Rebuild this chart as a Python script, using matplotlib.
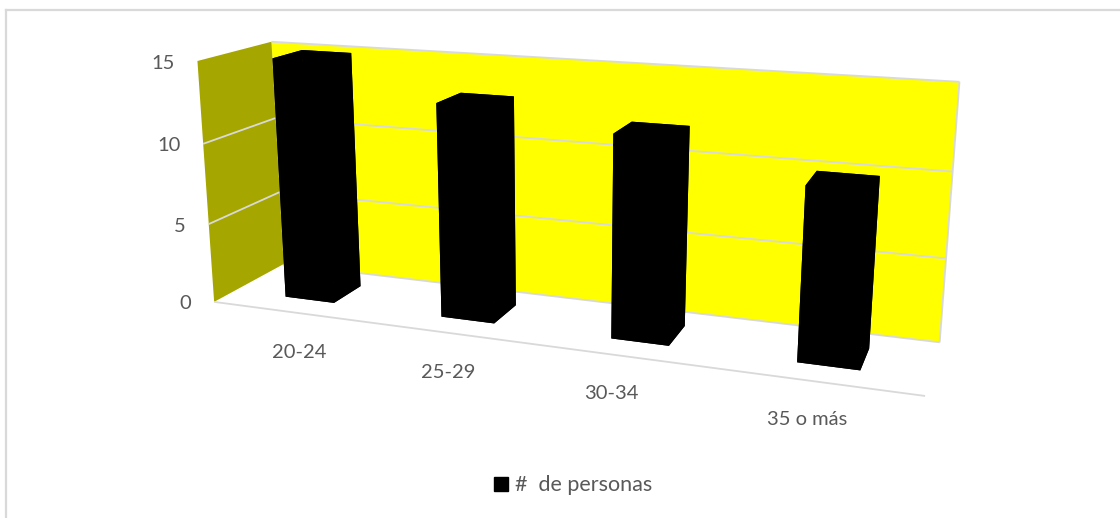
import numpy as np
import matplotlib
matplotlib.use("Agg")
import matplotlib.pyplot as plt
from mpl_toolkits.mplot3d import proj3d
from mpl_toolkits.mplot3d.art3d import Poly3DCollection, Line3DCollection
from matplotlib.lines import Line2D

categories = ["20-24", "25-29", "30-34", "35 o más"]
personas = [15, 13, 12, 10]
value_ticks = [0, 5, 10, 15]
series_name = "#  de personas"

plt.rcParams["font.family"] = ["Lato", "DejaVu Sans"]
TEXT = "#595959"
GRID = "#D9D9D9"

fig = plt.figure(figsize=(11.2, 5.18), dpi=100)
ax = fig.add_axes([-0.0045, 0.102, 1.0, 1.0], projection="3d", computed_zorder=False)
ax.set_proj_type("persp", focal_length=0.49)
ax.view_init(elev=15, azim=-70)

n = len(categories)
depth = 1.0
zmax = max(value_ticks)
ax.set_xlim(0, n)
ax.set_ylim(0, depth)
ax.set_zlim(0, zmax)
ax.set_box_aspect((2.665, 0.509, 0.935), zoom=1.49)
ax.set_axis_off()
ax.patch.set_visible(False)
for axis in (ax.xaxis, ax.yaxis, ax.zaxis):
    axis.label.set_visible(False)
    axis.offsetText.set_visible(False)


def add_poly(verts, color, z):
    pc = Poly3DCollection([verts], facecolors=color, edgecolors="none", zorder=z)
    pc.set_clip_on(False)
    ax.add_collection3d(pc)


# walls
add_poly([(0, depth, 0), (n, depth, 0), (n, depth, zmax), (0, depth, zmax)], "#FFFF00", 1)
add_poly([(0, 0, 0), (0, depth, 0), (0, depth, zmax), (0, 0, zmax)], "#A6A600", 1)

# gridlines and wall edges
segs = []
for v in value_ticks[1:-1]:
    segs.append([(0, 0, v), (0, depth, v)])
    segs.append([(0, depth, v), (n, depth, v)])
segs.append([(0, depth, zmax), (n, depth, zmax)])
segs.append([(n, depth, 0), (n, depth, zmax)])
segs.append([(0, depth, 0), (n, depth, 0)])
segs.append([(0, 0, 0), (n, 0, 0)])
lc = Line3DCollection(segs, colors=GRID, linewidths=1.3, zorder=2)
lc.set_clip_on(False)
ax.add_collection3d(lc)

# bars
w = 0.32
bd = 0.42
for i, val in enumerate(personas):
    x0 = i + 0.5 - w / 2
    y0 = depth / 2 - bd / 2
    bars = ax.bar3d(x0, y0, 0, w, bd, val, color="black", shade=False, zorder=3)
    bars.set_clip_on(False)

M = ax.get_proj()


def screen_point(x, y, z):
    px, py, _ = proj3d.proj_transform(x, y, z, M)
    return float(px), float(py)


# value axis labels, beside the front edge of the side wall
for v in value_ticks:
    ax.annotate(str(v), xy=screen_point(0, 0, v), xycoords="data",
                xytext=(-16.5, -1.5), textcoords="offset points",
                ha="right", va="center", fontsize=14.5, color=TEXT,
                annotation_clip=False)

# category labels, a fixed distance below the front edge of the floor
label_shift = [0.06, -0.02, -0.09, -0.07]
for i, c in enumerate(categories):
    ax.annotate(c, xy=screen_point(i + 0.5 + label_shift[i], 0, 0), xycoords="data",
                xytext=(0, -28.5), textcoords="offset points",
                ha="center", va="center", fontsize=14.5, color=TEXT,
                annotation_clip=False)

handle = Line2D([], [], marker="s", color="black", linestyle="none", markersize=9.5)
fig.legend([handle], [series_name], loc="center", bbox_to_anchor=(0.511, 0.063),
           frameon=False, fontsize=15.5, labelcolor=TEXT, handletextpad=0.25,
           handlelength=0.8)

# chart frame
x0f, y0f = 5.5 / 1120, 1 - 9.5 / 518
fig.add_artist(Line2D([x0f, 1.0], [y0f, y0f], transform=fig.transFigure, color=GRID, lw=1.6))
fig.add_artist(Line2D([x0f, x0f], [0.0, y0f], transform=fig.transFigure, color=GRID, lw=1.6))

fig.savefig("out.png", dpi=100)
